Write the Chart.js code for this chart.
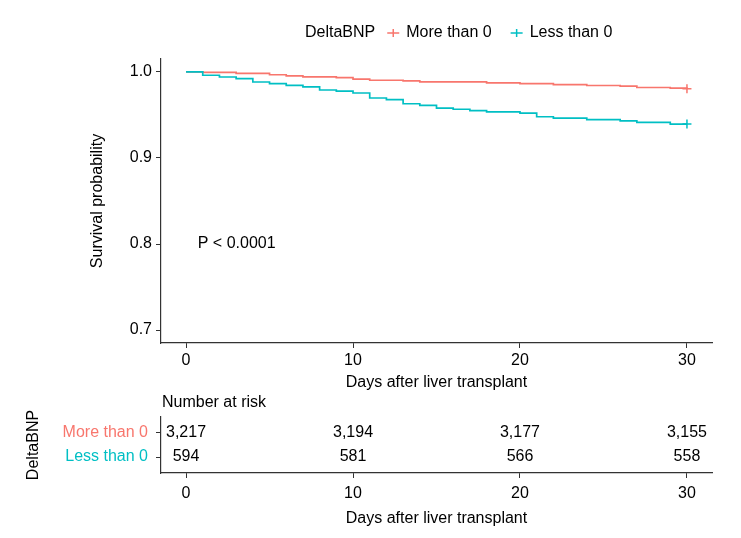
<!DOCTYPE html>
<html>
<head>
<meta charset="utf-8">
<script src="https://cdn.jsdelivr.net/npm/chart.js@4/dist/chart.umd.min.js"></script>
<style>
  body { margin: 0; background: #fff; }
  #wrap { position: relative; width: 741px; height: 538px; }
  canvas { position: absolute; left: 0; }
</style>
</head>
<body>
<div id="wrap">
  <canvas id="km" width="741" height="392" style="top:0"></canvas>
  <canvas id="risk" width="741" height="146" style="top:392px"></canvas>
</div>
<script>
// strata
const groupTitle = 'DeltaBNP';
const groupLabels = ['More than 0', 'Less than 0'];
const groupColors = ['#F8766D', '#00BFC4'];

// Kaplan-Meier steps (day, survival after the step)
const moreDays = [0, 1, 3, 5, 6, 7, 9, 10, 11, 13, 14, 18, 20, 22, 24, 26, 27, 29, 30];
const moreSurv = [1, 0.9994, 0.9982, 0.9967, 0.9955, 0.9943, 0.9933, 0.9915, 0.9903, 0.9896, 0.9885,
  0.9872, 0.9865, 0.9852, 0.9842, 0.9834, 0.9819, 0.9811, 0.9804];
const lessDays = [0, 1, 2, 3, 4, 5, 6, 7, 8, 9, 10, 11, 12, 13, 14, 15, 16, 17, 18, 20, 21, 22, 24, 26, 27, 29, 30];
const lessSurv = [1, 0.9961, 0.9941, 0.9922, 0.9883, 0.9863, 0.9844, 0.9825, 0.9790, 0.9776, 0.9755,
  0.9697, 0.9677, 0.9630, 0.9611, 0.9580, 0.9566, 0.9550, 0.9535, 0.9520, 0.9479, 0.9462, 0.9445,
  0.9430, 0.9413, 0.9394, 0.9394];

// number at risk table
const riskDays = [0, 10, 20, 30];
const riskMore = [3217, 3194, 3177, 3155];
const riskLess = [594, 581, 566, 558];

const xTicks = [0, 10, 20, 30];
const yTicks = [0.7, 0.8, 0.9, 1.0];
const pValueText = 'P < 0.0001';
const xTitle = 'Days after liver transplant';

const FONT = '"Liberation Sans", Arial, sans-serif';
Chart.defaults.font.family = FONT;
Chart.defaults.font.size = 16;
Chart.defaults.color = '#000';
Chart.defaults.animation = false;

const toPoints = (xs, ys) => xs.map((d, i) => ({ x: d, y: ys[i] }));
const lastOnly = r => ctx => ctx.dataIndex === ctx.dataset.data.length - 1 ? r : 0;

const axisX = (tickPad, titlePad, height) => ({
  type: 'linear',
  min: -1.5,
  max: 31.5,
  afterBuildTicks: s => { s.ticks = xTicks.map(v => ({ value: v })); },
  afterFit: s => { s.height = height; },
  grid: { drawOnChartArea: false, drawTicks: true, tickLength: 5, color: '#333' },
  border: { color: '#333', width: 1.2 },
  ticks: { padding: tickPad, maxRotation: 0, color: '#000' },
  title: { display: true, text: xTitle, padding: { top: 0, bottom: titlePad }, color: '#000' }
});

const kmLegend = {
  id: 'kmLegend',
  afterDraw(chart) {
    const ctx = chart.ctx;
    const y = 33;
    let x = 305;
    ctx.save();
    ctx.font = '16px ' + FONT;
    ctx.textBaseline = 'middle';
    ctx.fillStyle = '#000';
    ctx.fillText(groupTitle, x, y);
    x += ctx.measureText(groupTitle).width + 12;
    groupLabels.forEach((lab, i) => {
      ctx.strokeStyle = groupColors[i];
      ctx.lineWidth = 1.5;
      ctx.beginPath();
      ctx.moveTo(x, y); ctx.lineTo(x + 12, y);
      ctx.moveTo(x + 6, y - 4); ctx.lineTo(x + 6, y + 4);
      ctx.stroke();
      x += 19;
      ctx.fillStyle = '#000';
      ctx.fillText(lab, x, y);
      x += ctx.measureText(lab).width + 19;
    });
    // p value
    const { x: sx, y: sy } = chart.scales;
    ctx.fillText(pValueText, sx.getPixelForValue(0.7), sy.getPixelForValue(0.8));
    ctx.restore();
  }
};

new Chart(document.getElementById('km'), {
  type: 'line',
  data: {
    datasets: [
      { label: groupLabels[0], data: toPoints(moreDays, moreSurv), order: 2 },
      { label: groupLabels[1], data: toPoints(lessDays, lessSurv), order: 1 }
    ].map((d, i) => Object.assign(d, {
      borderColor: groupColors[i],
      backgroundColor: groupColors[i],
      borderWidth: 1.7,
      stepped: 'before',
      fill: false,
      pointStyle: 'cross',
      pointRadius: lastOnly(4.5),
      pointBorderWidth: 1.5,
      pointBorderColor: groupColors[i]
    }))
  },
  options: {
    responsive: false,
    devicePixelRatio: 1,
    events: [],
    layout: { padding: { left: 88, right: 29, top: 59, bottom: 0 } },
    plugins: { legend: { display: false }, tooltip: { enabled: false } },
    scales: {
      x: axisX(3, 0, 49),
      y: {
        type: 'linear',
        min: 0.685,
        max: 1.015,
        afterBuildTicks: s => { s.ticks = yTicks.map(v => ({ value: v })); },
        afterFit: s => { s.width = 73; },
        grid: { drawOnChartArea: false, drawTicks: true, tickLength: 5, color: '#333' },
        border: { color: '#333', width: 1.2 },
        ticks: { padding: 4, color: '#000', callback: v => v.toFixed(1) },
        title: { display: true, text: 'Survival probability', padding: { top: 0, bottom: 0 }, color: '#000' }
      }
    }
  },
  plugins: [kmLegend]
});

const riskText = {
  id: 'riskText',
  afterDatasetsDraw(chart) {
    const { ctx, chartArea, scales: { x, y } } = chart;
    ctx.save();
    ctx.font = '16px ' + FONT;
    ctx.fillStyle = '#000';
    ctx.textBaseline = 'middle';
    ctx.textAlign = 'center';
    [riskMore, riskLess].forEach((row, r) => {
      row.forEach((n, i) => {
        ctx.fillText(n.toLocaleString('en-US'), x.getPixelForValue(riskDays[i]), y.getPixelForValue(2 - r));
      });
    });
    ctx.textAlign = 'left';
    ctx.fillText('Number at risk', chartArea.left + 1, 11);
    ctx.restore();
  }
};

new Chart(document.getElementById('risk'), {
  type: 'scatter',
  data: {
    datasets: [
      { data: riskDays.map(d => ({ x: d, y: 2 })), pointRadius: 0 },
      { data: riskDays.map(d => ({ x: d, y: 1 })), pointRadius: 0 }
    ]
  },
  options: {
    responsive: false,
    devicePixelRatio: 1,
    events: [],
    layout: { padding: { left: 24, right: 29, top: 25, bottom: 0 } },
    plugins: { legend: { display: false }, tooltip: { enabled: false } },
    scales: {
      x: axisX(6, 10, 65),
      y: {
        type: 'linear',
        min: 1 / 3,
        max: 8 / 3,
        afterBuildTicks: s => { s.ticks = [2, 1].map(v => ({ value: v })); },
        afterFit: s => { s.width = 137; },
        grid: { drawOnChartArea: false, drawTicks: true, tickLength: 5, color: '#333' },
        border: { color: '#333', width: 1.2 },
        ticks: {
          padding: 8,
          color: ctx => groupColors[ctx.tick.value === 2 ? 0 : 1],
          callback: v => groupLabels[v === 2 ? 0 : 1]
        },
        title: { display: true, text: groupTitle, padding: { top: 0, bottom: 0 }, color: '#000' }
      }
    }
  },
  plugins: [riskText]
});
</script>
</body>
</html>
